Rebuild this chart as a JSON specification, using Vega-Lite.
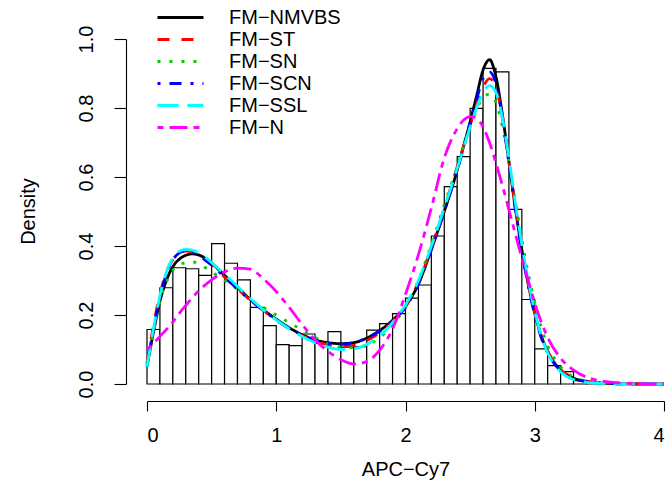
{
  "$schema": "https://vega.github.io/schema/vega-lite/v6.json",
  "width": 517,
  "height": 345,
  "autosize": {"type": "none"},
  "padding": {"left": 147, "top": 39, "right": 2, "bottom": 101},
  "background": "white",
  "config": {
    "view": {"stroke": null},
    "axis": {"grid": false, "domainColor": "black", "tickColor": "black", "labelColor": "black", "titleColor": "black", "labelFont": "Liberation Sans", "titleFont": "Liberation Sans", "labelFontSize": 20, "titleFontSize": 20, "titleFontWeight": "normal", "domainWidth": 1.1, "tickWidth": 1.1}
  },
  "datasets": {
    "hist": [
      {"b0": 0.0, "b1": 0.1, "d": 0.158}, {"b0": 0.1, "b1": 0.2, "d": 0.279}, {"b0": 0.2, "b1": 0.3, "d": 0.337}, {"b0": 0.3, "b1": 0.4, "d": 0.334},
      {"b0": 0.4, "b1": 0.5, "d": 0.315}, {"b0": 0.5, "b1": 0.6, "d": 0.407}, {"b0": 0.6, "b1": 0.7, "d": 0.350}, {"b0": 0.7, "b1": 0.8, "d": 0.302},
      {"b0": 0.8, "b1": 0.9, "d": 0.222}, {"b0": 0.9, "b1": 1.0, "d": 0.169}, {"b0": 1.0, "b1": 1.1, "d": 0.114}, {"b0": 1.1, "b1": 1.2, "d": 0.111},
      {"b0": 1.2, "b1": 1.3, "d": 0.145}, {"b0": 1.3, "b1": 1.4, "d": 0.118}, {"b0": 1.4, "b1": 1.5, "d": 0.152}, {"b0": 1.5, "b1": 1.6, "d": 0.107},
      {"b0": 1.6, "b1": 1.7, "d": 0.108}, {"b0": 1.7, "b1": 1.8, "d": 0.156}, {"b0": 1.8, "b1": 1.9, "d": 0.175}, {"b0": 1.9, "b1": 2.0, "d": 0.204},
      {"b0": 2.0, "b1": 2.1, "d": 0.249}, {"b0": 2.1, "b1": 2.2, "d": 0.287}, {"b0": 2.2, "b1": 2.3, "d": 0.429}, {"b0": 2.3, "b1": 2.4, "d": 0.572},
      {"b0": 2.4, "b1": 2.5, "d": 0.659}, {"b0": 2.5, "b1": 2.6, "d": 0.799}, {"b0": 2.6, "b1": 2.7, "d": 0.915}, {"b0": 2.7, "b1": 2.8, "d": 0.905},
      {"b0": 2.8, "b1": 2.9, "d": 0.506}, {"b0": 2.9, "b1": 3.0, "d": 0.245}, {"b0": 3.0, "b1": 3.1, "d": 0.102}, {"b0": 3.1, "b1": 3.2, "d": 0.053},
      {"b0": 3.2, "b1": 3.3, "d": 0.036}, {"b0": 3.3, "b1": 3.4, "d": 0.010}, {"b0": 3.4, "b1": 3.5, "d": 0.004}, {"b0": 3.5, "b1": 3.6, "d": 0.002}
    ],
    "curves": [
      {"m":"FM−NMVBS","x":0,"d":0.05},{"m":"FM−NMVBS","x":0.05,"d":0.15},{"m":"FM−NMVBS","x":0.1,"d":0.24},{"m":"FM−NMVBS","x":0.15,"d":0.30},{"m":"FM−NMVBS","x":0.2,"d":0.34},{"m":"FM−NMVBS","x":0.25,"d":0.362},{"m":"FM−NMVBS","x":0.3,"d":0.373},{"m":"FM−NMVBS","x":0.35,"d":0.377},{"m":"FM−NMVBS","x":0.4,"d":0.374},{"m":"FM−NMVBS","x":0.5,"d":0.35},
      {"m":"FM−NMVBS","x":0.6,"d":0.315},{"m":"FM−NMVBS","x":0.7,"d":0.28},{"m":"FM−NMVBS","x":0.8,"d":0.245},{"m":"FM−NMVBS","x":0.9,"d":0.215},{"m":"FM−NMVBS","x":1.0,"d":0.188},{"m":"FM−NMVBS","x":1.1,"d":0.163},{"m":"FM−NMVBS","x":1.2,"d":0.143},{"m":"FM−NMVBS","x":1.3,"d":0.128},{"m":"FM−NMVBS","x":1.4,"d":0.12},{"m":"FM−NMVBS","x":1.5,"d":0.117},
      {"m":"FM−NMVBS","x":1.6,"d":0.12},{"m":"FM−NMVBS","x":1.7,"d":0.133},{"m":"FM−NMVBS","x":1.8,"d":0.155},{"m":"FM−NMVBS","x":1.9,"d":0.185},{"m":"FM−NMVBS","x":2.0,"d":0.225},{"m":"FM−NMVBS","x":2.1,"d":0.29},{"m":"FM−NMVBS","x":2.2,"d":0.39},{"m":"FM−NMVBS","x":2.3,"d":0.5},{"m":"FM−NMVBS","x":2.4,"d":0.62},{"m":"FM−NMVBS","x":2.45,"d":0.69},
      {"m":"FM−NMVBS","x":2.5,"d":0.76},{"m":"FM−NMVBS","x":2.55,"d":0.835},{"m":"FM−NMVBS","x":2.6,"d":0.91},{"m":"FM−NMVBS","x":2.65,"d":0.94},{"m":"FM−NMVBS","x":2.7,"d":0.89},{"m":"FM−NMVBS","x":2.75,"d":0.78},{"m":"FM−NMVBS","x":2.8,"d":0.645},{"m":"FM−NMVBS","x":2.85,"d":0.51},{"m":"FM−NMVBS","x":2.9,"d":0.39},{"m":"FM−NMVBS","x":2.95,"d":0.29},
      {"m":"FM−NMVBS","x":3.0,"d":0.205},{"m":"FM−NMVBS","x":3.05,"d":0.14},{"m":"FM−NMVBS","x":3.1,"d":0.095},{"m":"FM−NMVBS","x":3.2,"d":0.04},{"m":"FM−NMVBS","x":3.3,"d":0.017},{"m":"FM−NMVBS","x":3.4,"d":0.007},{"m":"FM−NMVBS","x":3.5,"d":0.003},{"m":"FM−NMVBS","x":3.6,"d":0.001},{"m":"FM−NMVBS","x":3.8,"d":0},{"m":"FM−NMVBS","x":4.0,"d":0},

      {"m":"FM−ST","x":0,"d":0.06},{"m":"FM−ST","x":0.05,"d":0.17},{"m":"FM−ST","x":0.1,"d":0.26},{"m":"FM−ST","x":0.15,"d":0.325},{"m":"FM−ST","x":0.2,"d":0.36},{"m":"FM−ST","x":0.25,"d":0.38},{"m":"FM−ST","x":0.3,"d":0.385},{"m":"FM−ST","x":0.35,"d":0.382},{"m":"FM−ST","x":0.4,"d":0.372},{"m":"FM−ST","x":0.5,"d":0.345},
      {"m":"FM−ST","x":0.6,"d":0.31},{"m":"FM−ST","x":0.7,"d":0.275},{"m":"FM−ST","x":0.8,"d":0.243},{"m":"FM−ST","x":0.9,"d":0.213},{"m":"FM−ST","x":1.0,"d":0.185},{"m":"FM−ST","x":1.1,"d":0.16},{"m":"FM−ST","x":1.2,"d":0.14},{"m":"FM−ST","x":1.3,"d":0.125},{"m":"FM−ST","x":1.4,"d":0.113},{"m":"FM−ST","x":1.5,"d":0.108},
      {"m":"FM−ST","x":1.6,"d":0.112},{"m":"FM−ST","x":1.7,"d":0.126},{"m":"FM−ST","x":1.8,"d":0.148},{"m":"FM−ST","x":1.9,"d":0.18},{"m":"FM−ST","x":2.0,"d":0.225},{"m":"FM−ST","x":2.1,"d":0.295},{"m":"FM−ST","x":2.2,"d":0.395},{"m":"FM−ST","x":2.3,"d":0.51},{"m":"FM−ST","x":2.4,"d":0.63},{"m":"FM−ST","x":2.45,"d":0.69},
      {"m":"FM−ST","x":2.5,"d":0.75},{"m":"FM−ST","x":2.55,"d":0.81},{"m":"FM−ST","x":2.6,"d":0.86},{"m":"FM−ST","x":2.65,"d":0.885},{"m":"FM−ST","x":2.7,"d":0.86},{"m":"FM−ST","x":2.75,"d":0.77},{"m":"FM−ST","x":2.8,"d":0.645},{"m":"FM−ST","x":2.85,"d":0.515},{"m":"FM−ST","x":2.9,"d":0.395},{"m":"FM−ST","x":2.95,"d":0.29},
      {"m":"FM−ST","x":3.0,"d":0.205},{"m":"FM−ST","x":3.05,"d":0.14},{"m":"FM−ST","x":3.1,"d":0.095},{"m":"FM−ST","x":3.2,"d":0.042},{"m":"FM−ST","x":3.3,"d":0.018},{"m":"FM−ST","x":3.4,"d":0.008},{"m":"FM−ST","x":3.5,"d":0.004},{"m":"FM−ST","x":3.6,"d":0.002},{"m":"FM−ST","x":3.8,"d":0.0005},{"m":"FM−ST","x":4.0,"d":0},

      {"m":"FM−SN","x":0,"d":0.06},{"m":"FM−SN","x":0.05,"d":0.15},{"m":"FM−SN","x":0.1,"d":0.24},{"m":"FM−SN","x":0.15,"d":0.295},{"m":"FM−SN","x":0.2,"d":0.33},{"m":"FM−SN","x":0.25,"d":0.345},{"m":"FM−SN","x":0.3,"d":0.352},{"m":"FM−SN","x":0.35,"d":0.354},{"m":"FM−SN","x":0.4,"d":0.348},{"m":"FM−SN","x":0.5,"d":0.325},
      {"m":"FM−SN","x":0.6,"d":0.3},{"m":"FM−SN","x":0.7,"d":0.275},{"m":"FM−SN","x":0.8,"d":0.245},{"m":"FM−SN","x":0.9,"d":0.222},{"m":"FM−SN","x":1.0,"d":0.2},{"m":"FM−SN","x":1.1,"d":0.178},{"m":"FM−SN","x":1.2,"d":0.157},{"m":"FM−SN","x":1.3,"d":0.135},{"m":"FM−SN","x":1.4,"d":0.117},{"m":"FM−SN","x":1.5,"d":0.107},
      {"m":"FM−SN","x":1.6,"d":0.105},{"m":"FM−SN","x":1.7,"d":0.113},{"m":"FM−SN","x":1.8,"d":0.134},{"m":"FM−SN","x":1.9,"d":0.17},{"m":"FM−SN","x":2.0,"d":0.225},{"m":"FM−SN","x":2.1,"d":0.3},{"m":"FM−SN","x":2.2,"d":0.405},{"m":"FM−SN","x":2.3,"d":0.52},{"m":"FM−SN","x":2.4,"d":0.63},{"m":"FM−SN","x":2.45,"d":0.69},
      {"m":"FM−SN","x":2.5,"d":0.745},{"m":"FM−SN","x":2.55,"d":0.795},{"m":"FM−SN","x":2.6,"d":0.83},{"m":"FM−SN","x":2.65,"d":0.84},{"m":"FM−SN","x":2.7,"d":0.815},{"m":"FM−SN","x":2.75,"d":0.745},{"m":"FM−SN","x":2.8,"d":0.645},{"m":"FM−SN","x":2.85,"d":0.53},{"m":"FM−SN","x":2.9,"d":0.42},{"m":"FM−SN","x":2.95,"d":0.32},
      {"m":"FM−SN","x":3.0,"d":0.235},{"m":"FM−SN","x":3.05,"d":0.165},{"m":"FM−SN","x":3.1,"d":0.112},{"m":"FM−SN","x":3.2,"d":0.05},{"m":"FM−SN","x":3.3,"d":0.02},{"m":"FM−SN","x":3.4,"d":0.008},{"m":"FM−SN","x":3.5,"d":0.003},{"m":"FM−SN","x":3.6,"d":0.001},{"m":"FM−SN","x":3.8,"d":0},{"m":"FM−SN","x":4.0,"d":0},

      {"m":"FM−SCN","x":0,"d":0.055},{"m":"FM−SCN","x":0.05,"d":0.16},{"m":"FM−SCN","x":0.1,"d":0.25},{"m":"FM−SCN","x":0.15,"d":0.32},{"m":"FM−SCN","x":0.2,"d":0.36},{"m":"FM−SCN","x":0.25,"d":0.38},{"m":"FM−SCN","x":0.3,"d":0.386},{"m":"FM−SCN","x":0.35,"d":0.383},{"m":"FM−SCN","x":0.4,"d":0.373},{"m":"FM−SCN","x":0.5,"d":0.345},
      {"m":"FM−SCN","x":0.6,"d":0.31},{"m":"FM−SCN","x":0.7,"d":0.275},{"m":"FM−SCN","x":0.8,"d":0.243},{"m":"FM−SCN","x":0.9,"d":0.213},{"m":"FM−SCN","x":1.0,"d":0.186},{"m":"FM−SCN","x":1.1,"d":0.162},{"m":"FM−SCN","x":1.2,"d":0.142},{"m":"FM−SCN","x":1.3,"d":0.127},{"m":"FM−SCN","x":1.4,"d":0.118},{"m":"FM−SCN","x":1.5,"d":0.115},
      {"m":"FM−SCN","x":1.6,"d":0.12},{"m":"FM−SCN","x":1.7,"d":0.133},{"m":"FM−SCN","x":1.8,"d":0.153},{"m":"FM−SCN","x":1.9,"d":0.183},{"m":"FM−SCN","x":2.0,"d":0.222},{"m":"FM−SCN","x":2.1,"d":0.29},{"m":"FM−SCN","x":2.2,"d":0.39},{"m":"FM−SCN","x":2.3,"d":0.5},{"m":"FM−SCN","x":2.4,"d":0.62},{"m":"FM−SCN","x":2.45,"d":0.685},
      {"m":"FM−SCN","x":2.5,"d":0.755},{"m":"FM−SCN","x":2.55,"d":0.825},{"m":"FM−SCN","x":2.6,"d":0.885},{"m":"FM−SCN","x":2.65,"d":0.905},{"m":"FM−SCN","x":2.7,"d":0.87},{"m":"FM−SCN","x":2.75,"d":0.77},{"m":"FM−SCN","x":2.8,"d":0.64},{"m":"FM−SCN","x":2.85,"d":0.505},{"m":"FM−SCN","x":2.9,"d":0.385},{"m":"FM−SCN","x":2.95,"d":0.285},
      {"m":"FM−SCN","x":3.0,"d":0.2},{"m":"FM−SCN","x":3.05,"d":0.135},{"m":"FM−SCN","x":3.1,"d":0.09},{"m":"FM−SCN","x":3.2,"d":0.038},{"m":"FM−SCN","x":3.3,"d":0.016},{"m":"FM−SCN","x":3.4,"d":0.007},{"m":"FM−SCN","x":3.5,"d":0.003},{"m":"FM−SCN","x":3.6,"d":0.001},{"m":"FM−SCN","x":3.8,"d":0},{"m":"FM−SCN","x":4.0,"d":0},

      {"m":"FM−SSL","x":0,"d":0.05},{"m":"FM−SSL","x":0.05,"d":0.16},{"m":"FM−SSL","x":0.1,"d":0.255},{"m":"FM−SSL","x":0.15,"d":0.325},{"m":"FM−SSL","x":0.2,"d":0.365},{"m":"FM−SSL","x":0.25,"d":0.385},{"m":"FM−SSL","x":0.3,"d":0.39},{"m":"FM−SSL","x":0.35,"d":0.388},{"m":"FM−SSL","x":0.4,"d":0.38},{"m":"FM−SSL","x":0.5,"d":0.352},
      {"m":"FM−SSL","x":0.6,"d":0.318},{"m":"FM−SSL","x":0.7,"d":0.283},{"m":"FM−SSL","x":0.8,"d":0.248},{"m":"FM−SSL","x":0.9,"d":0.215},{"m":"FM−SSL","x":1.0,"d":0.186},{"m":"FM−SSL","x":1.1,"d":0.16},{"m":"FM−SSL","x":1.2,"d":0.138},{"m":"FM−SSL","x":1.3,"d":0.12},{"m":"FM−SSL","x":1.4,"d":0.107},{"m":"FM−SSL","x":1.5,"d":0.1},
      {"m":"FM−SSL","x":1.6,"d":0.102},{"m":"FM−SSL","x":1.7,"d":0.115},{"m":"FM−SSL","x":1.8,"d":0.14},{"m":"FM−SSL","x":1.9,"d":0.178},{"m":"FM−SSL","x":2.0,"d":0.23},{"m":"FM−SSL","x":2.1,"d":0.3},{"m":"FM−SSL","x":2.2,"d":0.4},{"m":"FM−SSL","x":2.3,"d":0.51},{"m":"FM−SSL","x":2.4,"d":0.625},{"m":"FM−SSL","x":2.45,"d":0.685},
      {"m":"FM−SSL","x":2.5,"d":0.745},{"m":"FM−SSL","x":2.55,"d":0.8},{"m":"FM−SSL","x":2.6,"d":0.845},{"m":"FM−SSL","x":2.65,"d":0.865},{"m":"FM−SSL","x":2.7,"d":0.845},{"m":"FM−SSL","x":2.75,"d":0.77},{"m":"FM−SSL","x":2.8,"d":0.655},{"m":"FM−SSL","x":2.85,"d":0.525},{"m":"FM−SSL","x":2.9,"d":0.405},{"m":"FM−SSL","x":2.95,"d":0.3},
      {"m":"FM−SSL","x":3.0,"d":0.21},{"m":"FM−SSL","x":3.05,"d":0.14},{"m":"FM−SSL","x":3.1,"d":0.09},{"m":"FM−SSL","x":3.2,"d":0.035},{"m":"FM−SSL","x":3.3,"d":0.013},{"m":"FM−SSL","x":3.4,"d":0.005},{"m":"FM−SSL","x":3.5,"d":0.002},{"m":"FM−SSL","x":3.6,"d":0.001},{"m":"FM−SSL","x":3.8,"d":0},{"m":"FM−SSL","x":4.0,"d":0},

      {"m":"FM−N","x":0,"d":0.10},{"m":"FM−N","x":0.05,"d":0.118},{"m":"FM−N","x":0.1,"d":0.138},{"m":"FM−N","x":0.15,"d":0.158},{"m":"FM−N","x":0.2,"d":0.18},{"m":"FM−N","x":0.25,"d":0.205},{"m":"FM−N","x":0.3,"d":0.228},{"m":"FM−N","x":0.35,"d":0.25},{"m":"FM−N","x":0.4,"d":0.27},{"m":"FM−N","x":0.5,"d":0.302},
      {"m":"FM−N","x":0.6,"d":0.325},{"m":"FM−N","x":0.7,"d":0.336},{"m":"FM−N","x":0.8,"d":0.333},{"m":"FM−N","x":0.9,"d":0.305},{"m":"FM−N","x":1.0,"d":0.268},{"m":"FM−N","x":1.1,"d":0.222},{"m":"FM−N","x":1.2,"d":0.173},{"m":"FM−N","x":1.3,"d":0.128},{"m":"FM−N","x":1.4,"d":0.095},{"m":"FM−N","x":1.5,"d":0.07},
      {"m":"FM−N","x":1.6,"d":0.058},{"m":"FM−N","x":1.7,"d":0.065},{"m":"FM−N","x":1.8,"d":0.098},{"m":"FM−N","x":1.9,"d":0.16},{"m":"FM−N","x":2.0,"d":0.26},{"m":"FM−N","x":2.1,"d":0.375},{"m":"FM−N","x":2.2,"d":0.51},{"m":"FM−N","x":2.3,"d":0.655},{"m":"FM−N","x":2.4,"d":0.74},{"m":"FM−N","x":2.45,"d":0.765},
      {"m":"FM−N","x":2.5,"d":0.775},{"m":"FM−N","x":2.55,"d":0.77},{"m":"FM−N","x":2.6,"d":0.745},{"m":"FM−N","x":2.65,"d":0.7},{"m":"FM−N","x":2.7,"d":0.64},{"m":"FM−N","x":2.75,"d":0.575},{"m":"FM−N","x":2.8,"d":0.505},{"m":"FM−N","x":2.85,"d":0.435},{"m":"FM−N","x":2.9,"d":0.365},{"m":"FM−N","x":2.95,"d":0.3},
      {"m":"FM−N","x":3.0,"d":0.235},{"m":"FM−N","x":3.05,"d":0.18},{"m":"FM−N","x":3.1,"d":0.135},{"m":"FM−N","x":3.2,"d":0.075},{"m":"FM−N","x":3.3,"d":0.04},{"m":"FM−N","x":3.4,"d":0.02},{"m":"FM−N","x":3.5,"d":0.01},{"m":"FM−N","x":3.6,"d":0.005},{"m":"FM−N","x":3.8,"d":0.001},{"m":"FM−N","x":4.0,"d":0}
    ]
  },
  "layer": [
    {
      "data": {"name": "hist"},
      "mark": {"type": "rect", "fill": "white", "stroke": "black", "strokeWidth": 1.2},
      "encoding": {
        "x": {"field": "b0", "type": "quantitative", "scale": {"domain": [0, 4], "nice": false, "zero": false},
              "axis": {"values": [0, 1, 2, 3, 4], "format": "d", "offset": 17, "tickSize": 10, "labelPadding": 14, "title": "APC−Cy7", "titleX": 258.5, "titleY": 74, "titleAlign": "center", "titleBaseline": "alphabetic"}},
        "x2": {"field": "b1"},
        "y": {"field": "d", "type": "quantitative", "scale": {"domain": [0, 1], "nice": false},
              "axis": {"values": [0, 0.2, 0.4, 0.6, 0.8, 1.0], "format": ".1f", "offset": 21, "tickSize": 12, "labelPadding": 22, "labelAngle": -90, "labelAlign": "center", "labelBaseline": "alphabetic", "title": "Density", "titleAngle": -90, "titleX": -92, "titleY": 172, "titleAlign": "center", "titleBaseline": "alphabetic"}},
        "y2": {"datum": 0}
      }
    },
    {
      "data": {"name": "curves"},
      "mark": {"type": "line", "interpolate": "monotone", "strokeWidth": 2.8},
      "encoding": {
        "x": {"field": "x", "type": "quantitative"},
        "y": {"field": "d", "type": "quantitative"},
        "color": {"field": "m", "type": "nominal",
                  "scale": {"domain": ["FM−NMVBS", "FM−ST", "FM−SN", "FM−SCN", "FM−SSL", "FM−N"], "range": ["#000000", "#FF0000", "#00CD00", "#0000FF", "#00FFFF", "#FF00FF"]},
                  "legend": {"orient": "none", "legendX": 22, "legendY": -33, "title": null, "symbolType": "M-2.3,0H2.3", "symbolSize": 400, "symbolStrokeWidth": 2.8, "labelFontSize": 20, "labelFont": "Liberation Sans", "labelColor": "black", "labelOffset": 37, "rowPadding": 0, "padding": 0, "labelLimit": 300}},
        "strokeDash": {"field": "m", "type": "nominal",
                  "scale": {"domain": ["FM−NMVBS", "FM−ST", "FM−SN", "FM−SCN", "FM−SSL", "FM−N"], "range": [[1, 0], [12, 12], [3, 9], [3, 9, 12, 9], [21, 9], [6, 6, 18, 6]]},
                  "legend": {"orient": "none", "legendX": 22, "legendY": -33, "title": null, "symbolType": "M-2.3,0H2.3", "symbolSize": 400, "symbolStrokeWidth": 2.8, "labelFontSize": 20, "labelFont": "Liberation Sans", "labelColor": "black", "labelOffset": 37, "rowPadding": 0, "padding": 0, "labelLimit": 300}}
      }
    }
  ]
}
